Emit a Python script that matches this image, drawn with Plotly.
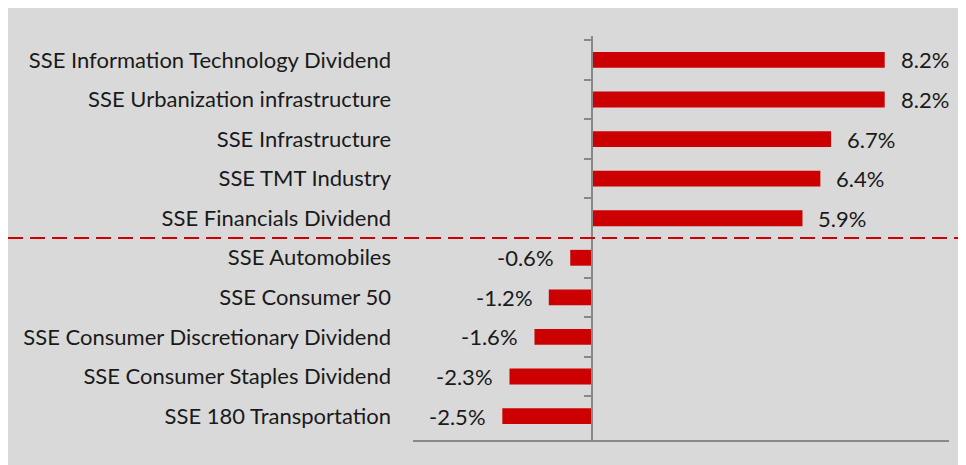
import plotly.graph_objects as go

categories = [
    "SSE Information Technology Dividend",
    "SSE Urbanization infrastructure",
    "SSE Infrastructure",
    "SSE TMT Industry",
    "SSE Financials Dividend",
    "SSE Automobiles",
    "SSE Consumer 50",
    "SSE Consumer Discretionary Dividend",
    "SSE Consumer Staples Dividend",
    "SSE 180 Transportation",
]
values = [8.2, 8.2, 6.7, 6.4, 5.9, -0.6, -1.2, -1.6, -2.3, -2.5]
x_range = [-5, 10]
split_after = 4  # dashed divider between positive and negative groups

BG = "#d9d9d9"
RED = "#cc0000"
AXIS = "#888888"
TXT = "#1a1a1a"
FONT = "Lato"
FS = 22

W, H = 966, 465
L, R, T, B = 405, 25, 28, 33
pw, ph = W - L - R, H - T - B

fig = go.Figure()
fig.add_trace(go.Bar(
    x=values, y=categories, orientation="h",
    marker=dict(color=RED, line=dict(width=0)),
    width=0.4, hoverinfo="skip", showlegend=False,
))
# invisible trace for the zero axis (ticks on category boundaries)
fig.add_trace(go.Scatter(
    x=[0] * len(categories), y=categories, yaxis="y2",
    mode="markers", marker=dict(opacity=0), hoverinfo="skip", showlegend=False,
))

for c, v in zip(categories, values):
    fig.add_annotation(
        x=v, y=c, text=f"{v:.1f}%", showarrow=False,
        xanchor="left" if v >= 0 else "right",
        xshift=14 if v >= 0 else -14,
        font=dict(family=FONT, size=FS, color=TXT),
    )

zero_pos = (0 - x_range[0]) / (x_range[1] - x_range[0])

fig.update_layout(
    width=W, height=H,
    margin=dict(l=L, r=R, t=T, b=B, pad=0),
    paper_bgcolor=BG,
    plot_bgcolor=BG,
    font=dict(family=FONT, size=FS, color=TXT),
    xaxis=dict(
        range=x_range, showgrid=False, zeroline=False,
        showticklabels=False, ticks="",
        showline=True, linecolor=AXIS, linewidth=2,
        fixedrange=True,
    ),
    yaxis=dict(
        type="category", categoryorder="array", categoryarray=categories,
        autorange="reversed", showgrid=False, zeroline=False,
        showline=False, ticks="", ticklabelstandoff=21,
        tickfont=dict(family=FONT, size=FS, color=TXT),
    ),
    yaxis2=dict(
        type="category", categoryorder="array", categoryarray=categories,
        autorange="reversed", overlaying="y", anchor="free",
        position=zero_pos, side="left", matches="y",
        showgrid=False, zeroline=False, showticklabels=False,
        showline=True, linecolor=AXIS, linewidth=2,
        ticks="outside", ticklen=7, tickwidth=2, tickcolor=AXIS,
        tickson="boundaries",
    ),
    shapes=[
        dict(type="line", xref="paper", yref="y",
             x0=-L / pw, x1=1 + R / pw,
             y0=split_after + 0.5, y1=split_after + 0.5,
             line=dict(color=RED, width=2, dash="15px,7px")),
    ],
)

fig.write_html("out.html")
